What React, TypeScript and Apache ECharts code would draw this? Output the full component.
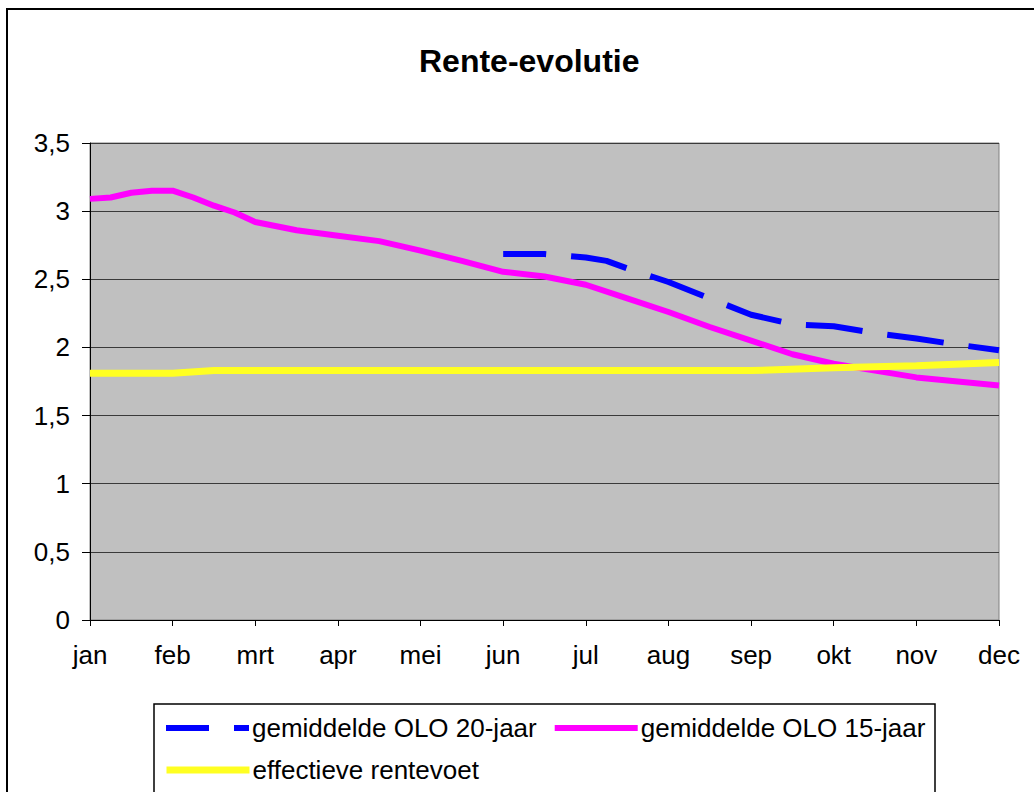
import React, { useEffect, useRef } from "react";
import * as echarts from "echarts";

const months = ["jan", "feb", "mrt", "apr", "mei", "jun", "jul", "aug", "sep", "okt", "nov", "dec"];
const yTicks = [0, 0.5, 1, 1.5, 2, 2.5, 3, 3.5];

const olo20: [number, number][] = [
  [5, 2.685], [5.5, 2.685], [6, 2.66], [6.25, 2.635], [6.5, 2.58], [7, 2.48], [7.5, 2.36],
  [8, 2.24], [8.5, 2.17], [9, 2.155], [9.5, 2.105], [10, 2.065], [10.5, 2.02], [11, 1.98],
];

const olo15: [number, number][] = [
  [0, 3.09], [0.25, 3.1], [0.5, 3.135], [0.75, 3.15], [1, 3.15], [1.25, 3.1], [1.5, 3.04],
  [1.75, 2.99], [2, 2.92], [2.5, 2.86], [3, 2.82], [3.5, 2.78], [4, 2.71], [4.5, 2.635],
  [5, 2.555], [5.5, 2.52], [6, 2.46], [6.5, 2.36], [7, 2.26], [7.5, 2.15], [8, 2.05],
  [8.5, 1.95], [9, 1.88], [9.5, 1.83], [10, 1.78], [10.5, 1.75], [11, 1.72],
];

const effectief: [number, number][] = [
  [0, 1.81], [1, 1.81], [1.5, 1.83], [8, 1.83], [9, 1.85], [10, 1.865], [11, 1.89],
];

const names = ["gemiddelde OLO 20-jaar", "gemiddelde OLO 15-jaar", "effectieve rentevoet"];

export default function App() {
  const ref = useRef<HTMLDivElement>(null);
  useEffect(() => {
    if (!ref.current) return;
    const chart = echarts.init(ref.current, null, { renderer: "svg" });
    const font = "'Liberation Sans', Arial, sans-serif";
    const legendCommon = {
      left: 163,
      itemWidth: 83,
      itemHeight: 26,
      itemGap: 15,
      padding: 0,
      textStyle: { fontFamily: font, fontSize: 26, color: "#000", padding: [0, 0, 0, -2] },
      itemStyle: { color: "transparent", borderWidth: 0, opacity: 0 },
    };
    chart.setOption({
      animation: false,
      backgroundColor: "#ffffff",
      textStyle: { fontFamily: font, color: "#000" },
      title: {
        text: "Rente-evolutie",
        left: 414,
        top: 40,
        textStyle: { fontFamily: font, fontSize: 32, fontWeight: "bold", color: "#000" },
      },
      graphic: [
        {
          type: "rect",
          shape: { x: 7, y: 9, width: 1200, height: 1000 },
          style: { fill: "none", stroke: "#000", lineWidth: 2 },
          silent: true,
          z: -10,
        },
        {
          type: "rect",
          shape: { x: 154, y: 704, width: 781, height: 200 },
          style: { fill: "none", stroke: "#000", lineWidth: 1.5 },
          silent: true,
        },
      ],
      legend: [
        {
          ...legendCommon,
          data: [names[0], names[1]],
          top: 715,
          lineStyle: { width: 6 },
        },
        {
          ...legendCommon,
          data: [names[2]],
          top: 757,
          lineStyle: { width: 7 },
        },
      ],
      grid: {
        left: 90,
        right: 35,
        top: 143,
        bottom: 172,
        show: true,
        backgroundColor: "#C0C0C0",
        borderColor: "#808080",
        borderWidth: 1,
      },
      xAxis: {
        type: "value",
        min: 0,
        max: months.length - 1,
        interval: 1,
        splitLine: { show: false },
        axisLine: { show: true, lineStyle: { color: "#000", width: 1 } },
        axisTick: { show: true, length: 6, lineStyle: { color: "#000" } },
        axisLabel: {
          margin: 22,
          fontSize: 26,
          fontFamily: font,
          color: "#000",
          formatter: (v: number) => months[Math.round(v)] ?? "",
        },
      },
      yAxis: {
        type: "value",
        min: yTicks[0],
        max: yTicks[yTicks.length - 1],
        interval: 0.5,
        splitLine: { show: true, lineStyle: { color: "#3a3a3a", width: 1 } },
        axisLine: { show: true, lineStyle: { color: "#000", width: 1 } },
        axisTick: { show: true, length: 8, lineStyle: { color: "#000" } },
        axisLabel: {
          margin: 20,
          fontSize: 26,
          fontFamily: font,
          color: "#000",
          formatter: (v: number) => String(v).replace(".", ","),
        },
      },
      series: [
        {
          name: names[0],
          type: "line",
          data: olo20,
          symbol: "none",
          color: "#0000FF",
          lineStyle: { color: "#0000FF", width: 6, type: [57, 25], dashOffset: 14, cap: "butt" },
        },
        {
          name: names[1],
          type: "line",
          data: olo15,
          symbol: "none",
          color: "#FF00FF",
          lineStyle: { color: "#FF00FF", width: 6 },
        },
        {
          name: names[2],
          type: "line",
          data: effectief,
          symbol: "none",
          color: "#FFFF00",
          lineStyle: { color: "#FFFF22", width: 7 },
        },
      ],
    });
    return () => chart.dispose();
  }, []);
  return (
    <div
      ref={ref}
      style={{ position: "fixed", left: 0, top: 0, width: 1034, height: 792 }}
    />
  );
}
